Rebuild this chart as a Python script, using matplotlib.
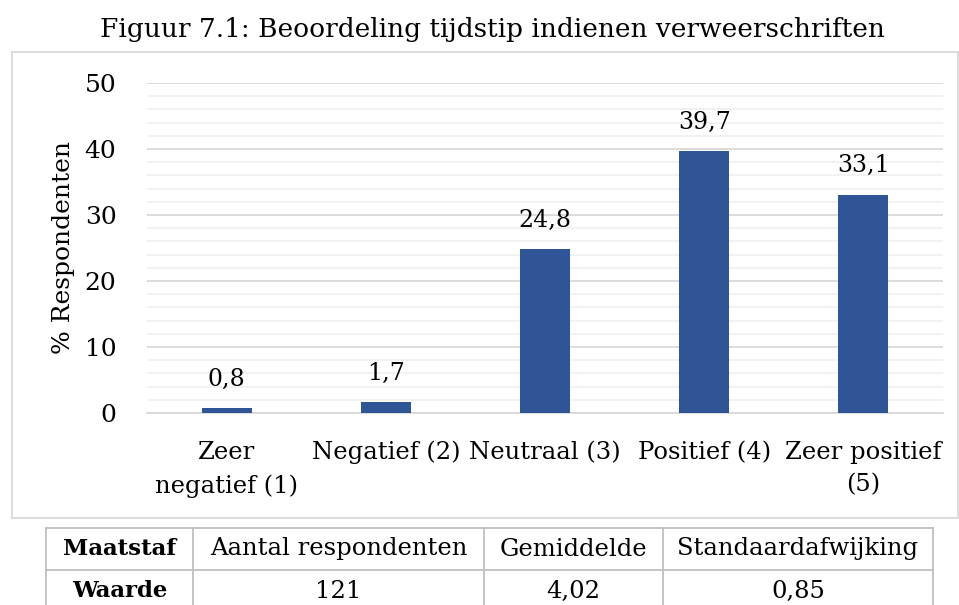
import matplotlib
matplotlib.use("Agg")
import matplotlib.pyplot as plt
from matplotlib.patches import Rectangle
from matplotlib.ticker import MultipleLocator

categories = ["Zeer\nnegatief (1)", "Negatief (2)", "Neutraal (3)",
              "Positief (4)", "Zeer positief\n(5)"]
values = [0.8, 1.7, 24.8, 39.7, 33.1]
value_labels = ["0,8", "1,7", "24,8", "39,7", "33,1"]
title = "Figuur 7.1: Beoordeling tijdstip indienen verweerschriften"
ylabel = "% Respondenten"

table_header = ["Maatstaf", "Aantal respondenten", "Gemiddelde", "Standaardafwijking"]
table_row = ["Waarde", "121", "4,02", "0,85"]

BAR = "#2F5597"
MAJ = "#D9D9D9"
MIN = "#F0F0F0"
FONT = "DejaVu Serif"
W, H = 959, 605

fig = plt.figure(figsize=(W / 100, H / 100), dpi=100)


def fx(px):
    return px / W


def fy(py):
    return 1 - py / H


# outer chart frame
fig.patches.append(Rectangle((fx(12), fy(518)), fx(958) - fx(12), fy(52) - fy(518),
                             transform=fig.transFigure, fill=False,
                             edgecolor=MAJ, lw=1.3))
fig.text(fx(492), fy(30), title, ha="center", va="center", fontsize=19,
         family=FONT)

ax = fig.add_axes([fx(147), fy(413), fx(943) - fx(147), fy(83) - fy(413)])
x = range(len(categories))
ax.bar(x, values, width=0.315, color=BAR, zorder=3)
for xi, v, lab in zip(x, values, value_labels):
    ax.text(xi, v + 2.6, lab, ha="center", va="bottom", fontsize=17,
            family=FONT)

ax.set_xlim(-0.5, len(categories) - 0.5)
ax.set_ylim(0, 50)
ax.yaxis.set_major_locator(MultipleLocator(10))
ax.yaxis.set_minor_locator(MultipleLocator(2))
ax.grid(axis="y", which="minor", color=MIN, lw=1.2, zorder=0)
ax.grid(axis="y", which="major", color=MAJ, lw=1.3, zorder=1)
for s in ["top", "right", "left"]:
    ax.spines[s].set_visible(False)
ax.spines["bottom"].set_color(MAJ)
ax.spines["bottom"].set_linewidth(1.3)
ax.tick_params(axis="both", which="both", length=0)
ax.tick_params(axis="y", pad=22)
ax.tick_params(axis="x", pad=20)
ax.set_xticks(list(x))
ax.set_xticklabels(categories, fontsize=17.5, family=FONT, linespacing=1.55)
for t in ax.get_yticklabels():
    t.set_fontsize(18)
    t.set_family(FONT)
ax.set_ylabel(ylabel, fontsize=18, family=FONT, labelpad=7)

# table below chart
tax = fig.add_axes([0, 0, 1, 1])
tax.set_xlim(0, W)
tax.set_ylim(H, 0)
tax.axis("off")
col_edges = [46, 193, 484, 663, 933]
row_edges = [528, 570, 612]
TL = "#BFBFBF"
for yv in row_edges:
    tax.plot([col_edges[0], col_edges[-1]], [yv, yv], color=TL, lw=1.3)
for xv in col_edges:
    tax.plot([xv, xv], [row_edges[0], row_edges[-1]], color=TL, lw=1.3)
for r, row in enumerate([table_header, table_row]):
    yc = (row_edges[r] + row_edges[r + 1]) / 2
    for c, cell in enumerate(row):
        xc = (col_edges[c] + col_edges[c + 1]) / 2
        bold = c == 0
        tax.text(xc, yc, cell, ha="center", va="center",
                 fontsize=16.5 if bold else 17.5,
                 family=FONT, fontweight="bold" if bold else "normal")

fig.savefig("out.png", dpi=100, facecolor="white")
